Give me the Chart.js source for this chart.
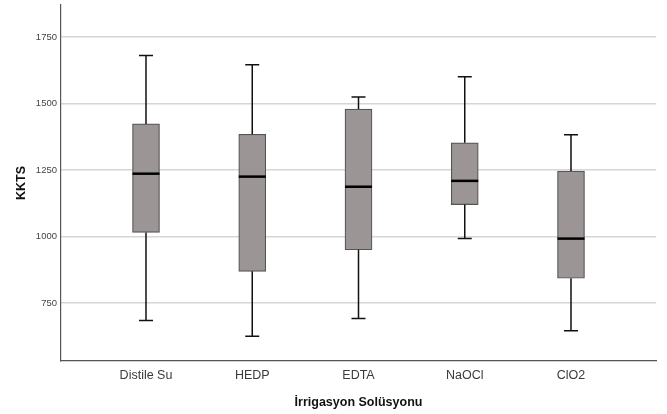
<!DOCTYPE html>
<html lang="tr">
<head>
    <meta charset="UTF-8">
    <title>KKTS - İrrigasyon Solüsyonu</title>
    <script src="https://cdn.jsdelivr.net/npm/chart.js"></script>
    <style>
        body {
            margin: 0;
            padding: 0;
            background: #ffffff;
        }
        #chartBox {
            width: 667px;
            height: 414px;
        }
    </style>
</head>
<body>
    <div id="chartBox">
        <canvas id="boxChart"></canvas>
    </div>

    <script>
        // Values
        const categories = ['Distile Su', 'HEDP', 'EDTA', 'NaOCl', 'ClO2'];
        const whiskerMin = [684, 625, 692, 992, 646];
        const q1 = [1015, 869, 950, 1120, 843];
        const median = [1236, 1225, 1187, 1209, 992];
        const q3 = [1423, 1384, 1479, 1352, 1246];
        const whiskerMax = [1680, 1645, 1524, 1600, 1382];
        const yTicks = [750, 1000, 1250, 1500, 1750];

        const boxData = categories.map((c, i) => ({ x: i, y: [q1[i], q3[i]] }));

        // whiskers, caps and median lines, placed through the chart scales
        const boxExtras = {
            id: 'boxExtras',
            afterDatasetsDraw(chart) {
                const ctx = chart.ctx;
                const xs = chart.scales.x;
                const ys = chart.scales.y;
                const boxHalf = 13.5;
                const capHalf = 7;
                ctx.save();
                categories.forEach((c, i) => {
                    const cx = xs.getPixelForValue(i);
                    ctx.strokeStyle = '#111111';
                    ctx.lineWidth = 1.5;
                    ctx.beginPath();
                    ctx.moveTo(cx, ys.getPixelForValue(q3[i]));
                    ctx.lineTo(cx, ys.getPixelForValue(whiskerMax[i]));
                    ctx.moveTo(cx, ys.getPixelForValue(q1[i]));
                    ctx.lineTo(cx, ys.getPixelForValue(whiskerMin[i]));
                    ctx.moveTo(cx - capHalf, ys.getPixelForValue(whiskerMax[i]));
                    ctx.lineTo(cx + capHalf, ys.getPixelForValue(whiskerMax[i]));
                    ctx.moveTo(cx - capHalf, ys.getPixelForValue(whiskerMin[i]));
                    ctx.lineTo(cx + capHalf, ys.getPixelForValue(whiskerMin[i]));
                    ctx.stroke();
                    // median
                    ctx.strokeStyle = '#000000';
                    ctx.lineWidth = 2.5;
                    ctx.beginPath();
                    ctx.moveTo(cx - boxHalf, ys.getPixelForValue(median[i]));
                    ctx.lineTo(cx + boxHalf, ys.getPixelForValue(median[i]));
                    ctx.stroke();
                });
                ctx.restore();
            }
        };

        const ctx = document.getElementById('boxChart').getContext('2d');
        new Chart(ctx, {
            type: 'bar',
            data: {
                datasets: [{
                    label: 'KKTS',
                    data: boxData,
                    backgroundColor: '#9b9595',
                    borderColor: '#555555',
                    borderWidth: 1.2,
                    borderSkipped: false,
                    barThickness: 27
                }]
            },
            options: {
                responsive: true,
                maintainAspectRatio: false,
                animation: false,
                layout: {
                    padding: { left: 0, right: 11, top: 5, bottom: 0 }
                },
                plugins: {
                    legend: { display: false },
                    tooltip: { enabled: false }
                },
                scales: {
                    x: {
                        type: 'linear',
                        offset: false,
                        min: -0.8,
                        max: 4.8,
                        afterBuildTicks: (axis) => {
                            axis.ticks = categories.map((c, i) => ({ value: i }));
                        },
                        afterFit: (axis) => {
                            axis.height = 53;
                            axis.paddingLeft = 0;
                            axis.paddingRight = 0;
                        },
                        grid: { display: false, drawTicks: false },
                        border: { display: true, color: '#555555', width: 1.2 },
                        ticks: {
                            padding: 7,
                            color: '#3a3a3a',
                            font: { family: 'Liberation Sans, Arial, sans-serif', size: 12.5 },
                            callback: (v) => categories[v]
                        },
                        title: {
                            display: true,
                            text: 'İrrigasyon Solüsyonu',
                            color: '#111111',
                            padding: { top: 0, bottom: 3.5 },
                            font: { family: 'Liberation Sans, Arial, sans-serif', size: 12.5, weight: 'bold' }
                        }
                    },
                    y: {
                        min: 532,
                        max: 1870,
                        afterBuildTicks: (axis) => {
                            axis.ticks = yTicks.map(v => ({ value: v }));
                        },
                        afterFit: (axis) => {
                            axis.width = 61;
                            axis.paddingTop = 0;
                            axis.paddingBottom = 0;
                        },
                        grid: { color: '#d6d6d6', lineWidth: 1.5, drawTicks: false },
                        border: { display: true, color: '#555555', width: 1.2 },
                        ticks: {
                            padding: 4,
                            color: '#444444',
                            font: { family: 'Liberation Sans, Arial, sans-serif', size: 9.5 },
                            callback: (v) => String(v)
                        },
                        title: {
                            display: true,
                            text: 'KKTS',
                            color: '#111111',
                            padding: { top: 14.5, bottom: 0 },
                            font: { family: 'Liberation Sans, Arial, sans-serif', size: 12.5, weight: 'bold' }
                        }
                    }
                }
            },
            plugins: [boxExtras]
        });
    </script>
</body>
</html>
